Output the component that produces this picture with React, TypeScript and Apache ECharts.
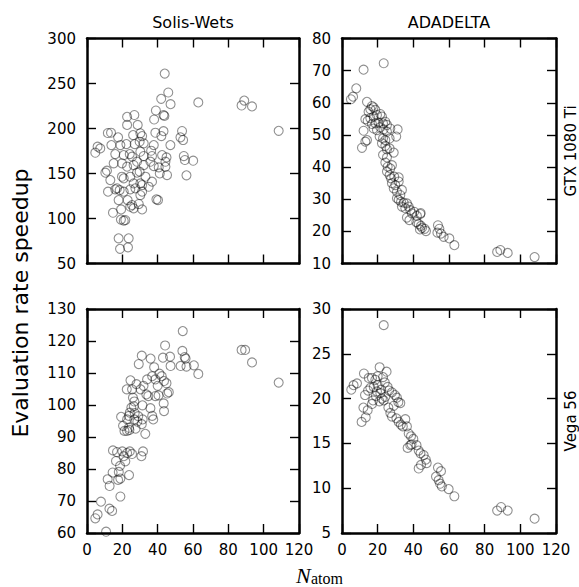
import React, { useEffect, useRef } from "react";
import * as echarts from "echarts";

// ---- Data ----
const panelTitles = ["Solis-Wets", "ADADELTA"];
const rowLabels = ["GTX 1080 Ti", "Vega 56"];
const yAxisTitle = "Evaluation rate speedup";
const xLabelMain = "N";
const xLabelSub = "atom";
const xTicks = [0, 20, 40, 60, 80, 100, 120];

// Solis-Wets, GTX 1080 Ti
const swGtxX = [13.6,17.6,26.1,30.2,31.2,42.1,38.7,53.8,52.9,54.4,4.7,6.0,7.5,13.8,18.9,22.3,27.0,29.8,32.1,37.8,47.2,16.0,20.8,24.2,25.5,30.2,32.1,36.3,36.8,42.5,45.0,44.4,54.8,55.4,60.1,11.3,10.4,15.1,19.8,22.7,26.4,28.3,32.1,35.9,37.8,40.6,41.2,45.3,19.8,20.8,24.5,28.3,29.8,33.1,36.8,30.2,31.2,26.4,13.2,17.0,18.5,20.8,24.5,27.4,31.2,30.2,34.9,11.9,16.0,17.9,23.0,25.5,26.4,29.3,31.2,24.5,39.3,40.2,14.7,19.3,21.7,20.8,17.9,23.6,44,46,47.3,42,63,87.5,89,93.4,108.5,39,43.3,43.8,38,22.7,26.8,22.7,28.7,43.3,18.7,23.2,56.3,44.4,19.2,11.8];
const swGtxY = [195.3,190.2,192.7,194.6,191.6,191.6,195.3,197.2,190.2,187.2,173.1,179.8,177.9,181.6,181.6,182.7,182.7,185.3,183.5,181.6,181.6,171.6,170.5,171.6,168.7,174.2,169.4,175.3,169.4,170.5,167.9,163.1,169.4,165.0,164.2,153.1,150.9,161.3,161.3,157.6,159.4,163.1,159.4,163.1,158.3,156.8,150.1,148.3,146.4,144.6,146.4,150.9,152.0,146.4,140.9,139.0,137.2,139.0,142.7,133.5,131.6,129.8,132.4,133.5,129.8,126.1,135.3,129.8,132.4,120.5,120.5,115.0,111.3,116.1,110.1,113.1,121.3,120.5,106.4,110.1,98.3,97.6,78.0,78.0,261,240,227,233,229,225.6,231,224.5,197.4,220,215,214,210,213,215,204,204,197,66.3,68,148,157.4,98.8,195];

// ADADELTA, GTX 1080 Ti
const adGtxX = [12.1,23.4,8.0,6.2,5.0,14.0,16.8,17.7,15.9,14.9,18.7,13.1,14.4,15.9,17.7,19.6,21.5,22.4,16.8,18.7,20.5,23.0,24.3,25.2,17.7,19.6,21.5,23.3,25.2,27.1,31.2,30.4,12.1,14.0,13.1,11.2,21.1,23.0,24.3,26.7,22.4,24.3,25.2,26.7,23.0,25.2,29.0,24.3,25.6,27.1,28.0,25.2,26.7,27.5,29.3,31.8,28.0,29.9,29.0,31.8,30.8,33.6,32.7,30.8,31.8,33.1,34.6,36.4,33.6,35.5,37.4,38.3,39.2,40.5,42.0,43.9,36.4,37.8,41.7,43.0,44.3,43.7,46.4,47.1,44.9,44.1,53.8,54.6,53.5,55.5,57.0,60.2,63.0,87.0,88.8,92.9,108.0];
const adGtxY = [70.3,72.3,64.5,61.9,61.1,60.3,59.0,58.6,58.0,57.2,57.8,54.9,54.4,55.2,55.7,56.2,56.5,55.7,53.4,53.6,53.8,53.6,54.1,53.1,52.0,51.5,52.4,51.7,51.0,52.0,51.7,49.5,51.3,48.4,47.9,46.0,49.5,48.9,48.4,48.9,47.4,46.6,45.5,45.8,43.8,43.0,44.5,41.4,40.1,39.6,40.6,38.6,37.5,36.5,37.0,36.8,35.0,34.4,33.4,35.5,32.3,32.9,31.3,30.3,29.8,29.2,28.9,28.7,27.7,27.2,27.7,26.6,25.6,26.1,24.8,25.4,24.3,23.5,22.9,22.3,21.7,20.6,20.8,20.1,21.1,25.7,21.9,20.8,19.6,19.3,18.3,17.8,15.7,13.6,14.2,13.3,12.0];

// Solis-Wets, Vega 56
const swVegaX = [54.2,44.2,54.0,55.3,55.8,53.0,56.3,60.5,63.0,87.5,89.5,93.4,108.5,31.0,36.0,29.3,43.0,47.0,47.3,38.0,41.0,42.3,36.9,38.7,43.6,45.0,24.6,22.5,25.5,30.3,32.0,33.6,34.7,38.7,40.5,45.4,46.3,43.4,43.6,26.0,26.8,25.1,26.5,31.4,35.9,24.2,23.7,19.3,22.7,23.8,26.8,28.5,31.0,31.5,36.9,37.5,20.4,21.2,22.7,24.0,27.5,33.0,14.7,17.0,20.0,22.7,24.2,25.5,31.7,30.8,20.8,21.7,16.4,18.7,18.0,18.9,17.6,14.5,11.7,12.8,23.8,18.9,7.9,12.7,14.2,6.0,4.7,10.8,27.0,29.0,40.0,34.0,28.0];
const swVegaY = [123.1,118.6,116.9,115.0,114.5,112.2,112.0,112.4,109.7,117.2,117.2,113.3,107.0,115.4,114.5,112.8,114.8,115.1,112.2,111.8,109.8,109.0,109.0,108.0,107.5,106.8,107.7,104.9,104.9,104.9,106.0,103.3,102.8,102.8,103.0,103.6,104.0,100.5,98.1,102.3,101.1,99.2,99.6,99.9,99.0,97.6,96.6,96.3,95.5,92.9,95.5,94.8,94.0,95.5,96.6,95.5,93.5,91.9,91.9,92.2,92.6,91.0,85.8,85.3,85.5,85.0,85.5,84.7,85.5,84.0,84.0,82.4,82.5,81.0,79.1,77.0,76.6,78.9,76.8,74.7,78.1,71.4,69.8,67.6,66.9,65.8,64.6,60.4,97.5,96.5,106.0,108.0,106.5];

// ADADELTA, Vega 56
const adVegaX = [23.4,21.1,25.0,12.3,15.0,8.4,6.5,5.2,12.9,14.6,15.9,16.8,18.7,20.0,17.8,19.6,21.5,22.4,23.4,24.3,25.6,26.4,28.0,29.7,30.8,31.6,32.7,16.8,17.4,12.0,14.4,13.3,11.0,27.1,28.0,30.5,31.8,33.0,34.1,35.5,36.4,37.4,38.7,40.0,39.0,41.8,36.8,38.3,43.0,44.0,45.8,47.0,43.0,44.3,47.5,53.8,55.5,52.7,54.2,55.0,56.0,59.8,63.0,87.0,89.2,92.9,108.0,20.0,22.0,24.0,19.0,21.0,23.0,29.0,26.0];
const adVegaY = [28.2,23.5,23.0,22.8,22.3,21.7,21.5,21.0,20.4,20.9,21.2,22.3,22.1,22.5,21.3,20.8,20.6,20.0,19.8,20.2,21.3,20.9,20.7,20.4,20.1,19.6,19.5,19.4,19.8,19.0,18.7,17.9,17.4,18.4,18.0,17.8,17.4,17.1,16.9,17.7,16.9,16.1,15.8,15.5,14.9,14.8,14.5,14.8,14.2,13.9,13.7,13.2,12.2,12.6,12.8,12.3,11.9,11.3,10.9,10.5,10.2,9.9,9.1,7.5,7.9,7.5,6.6,21.5,21.0,21.8,20.3,19.7,22.4,19.2,19.0];

const yRanges = [
  { min: 50, max: 300, interval: 50 },
  { min: 10, max: 80, interval: 10 },
  { min: 60, max: 130, interval: 10 },
  { min: 5, max: 30, interval: 5 },
];

const panels = [
  { x: swGtxX, y: swGtxY },
  { x: adGtxX, y: adGtxY },
  { x: swVegaX, y: swVegaY },
  { x: adVegaX, y: adVegaY },
];

// ---- Layout ----
const grids = [
  { left: 87, top: 38.5, width: 212, height: 225 },
  { left: 342, top: 38.5, width: 214, height: 225 },
  { left: 87, top: 309, width: 212, height: 224 },
  { left: 342, top: 309, width: 214, height: 224 },
];

const FONT = "DejaVu Sans";

export default function App() {
  const ref = useRef<HTMLDivElement>(null);
  useEffect(() => {
    if (!ref.current) return;
    const chart = echarts.init(ref.current, null, { renderer: "svg" });

    const axisLine = { show: true, onZero: false, lineStyle: { color: "#000", width: 2.5 } };
    const axisTick = { show: true, inside: true, length: 9, lineStyle: { color: "#000", width: 1.4 } };
    const labelStyle = { color: "#000", fontSize: 15, fontFamily: FONT };

    const xAxes: any[] = [];
    const yAxes: any[] = [];
    const series: any[] = [];
    grids.forEach((_, gi) => {
      const bottomRow = gi >= 2;
      ["bottom", "top"].forEach((pos) => {
        xAxes.push({
          gridIndex: gi,
          type: "value",
          position: pos,
          min: xTicks[0],
          max: xTicks[xTicks.length - 1],
          interval: xTicks[1] - xTicks[0],
          axisLine,
          axisTick,
          splitLine: { show: false },
          axisLabel: {
            show: bottomRow && pos === "bottom",
            margin: 9,
            showMinLabel: true,
            showMaxLabel: true,
            ...labelStyle,
          },
        });
      });
      ["left", "right"].forEach((pos) => {
        yAxes.push({
          gridIndex: gi,
          type: "value",
          position: pos,
          ...yRanges[gi],
          axisLine,
          axisTick,
          splitLine: { show: false },
          axisLabel: {
            show: pos === "left",
            margin: 11,
            showMinLabel: true,
            showMaxLabel: true,
            ...labelStyle,
          },
        });
      });
      const p = panels[gi];
      series.push({
        type: "scatter",
        xAxisIndex: gi * 2,
        yAxisIndex: gi * 2,
        data: p.x.map((v, i) => [v, p.y[i]]),
        symbol: "circle",
        symbolSize: 9,
        silent: true,
        itemStyle: {
          color: "rgba(0,0,0,0)",
          borderColor: "rgba(0,0,0,0.55)",
          borderWidth: 1.1,
        },
      });
    });

    const textStyle = (text: string, size: number) => ({
      text,
      fontSize: size,
      fontFamily: FONT,
      fill: "#000",
      align: "center",
      verticalAlign: "middle",
    });

    const graphic: any[] = [
      { type: "text", x: grids[0].left + grids[0].width / 2, y: 22, style: textStyle(panelTitles[0], 16) },
      { type: "text", x: grids[1].left + grids[1].width / 2, y: 22, style: textStyle(panelTitles[1], 16) },
      { type: "text", x: 571, y: grids[1].top + grids[1].height / 2, rotation: Math.PI / 2, style: textStyle(rowLabels[0], 15) },
      { type: "text", x: 571, y: grids[3].top + grids[3].height / 2, rotation: Math.PI / 2, style: textStyle(rowLabels[1], 15) },
      { type: "text", x: 20.5, y: 303, rotation: Math.PI / 2, style: textStyle(yAxisTitle, 22) },
      {
        type: "text",
        x: 296,
        y: 575,
        style: { text: xLabelMain, fontSize: 22, fontStyle: "italic", fontFamily: "Liberation Serif", fill: "#000", align: "left", verticalAlign: "middle" },
      },
      {
        type: "text",
        x: 311,
        y: 578,
        style: { text: xLabelSub, fontSize: 16, fontFamily: "Liberation Serif", fill: "#000", align: "left", verticalAlign: "middle" },
      },
    ];

    chart.setOption({
      animation: false,
      backgroundColor: "#fff",
      grid: grids.map((g) => ({ ...g, containLabel: false })),
      xAxis: xAxes,
      yAxis: yAxes,
      series,
      graphic,
    });
    return () => chart.dispose();
  }, []);

  return (
    <div
      ref={ref}
      style={{ position: "fixed", left: 0, top: 0, width: 579, height: 587, background: "#fff" }}
    />
  );
}
